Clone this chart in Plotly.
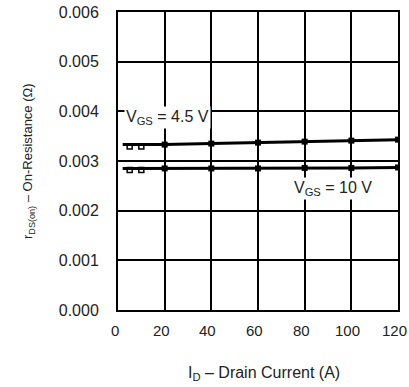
import plotly.graph_objects as go

# Data
id_line = [2, 20, 40, 60, 80, 100, 120]
r_45 = [0.00333, 0.00333, 0.00335, 0.00337, 0.00339, 0.00341, 0.00343]
r_10 = [0.00285, 0.00285, 0.00285, 0.00285, 0.00286, 0.00286, 0.00287]
pts_x = [20, 40, 60, 80, 100, 120]
pts_45 = [0.00333, 0.00335, 0.00337, 0.00339, 0.00341, 0.00343]
pts_10 = [0.00285, 0.00285, 0.00285, 0.00286, 0.00286, 0.00287]
low_x = [5, 10]
low_45 = [0.00329, 0.00329]
low_10 = [0.00282, 0.00282]
x_ticks = [0, 20, 40, 60, 80, 100, 120]
x_tick_labels = ["0", "20", "40", "60", "80", "100", "120"]
y_ticks = [0.000, 0.001, 0.002, 0.003, 0.004, 0.005, 0.006]

fig = go.Figure()
for ys in (r_45, r_10):
    fig.add_trace(go.Scatter(x=id_line, y=ys, mode="lines",
                             line=dict(color="black", width=3), showlegend=False))
for ys in (pts_45, pts_10):
    fig.add_trace(go.Scatter(x=pts_x, y=ys, mode="markers",
                             marker=dict(symbol="square", size=6, color="black"),
                             showlegend=False))
for ys in (low_45, low_10):
    fig.add_trace(go.Scatter(x=low_x, y=ys, mode="markers",
                             marker=dict(symbol="square-open", size=5, color="black",
                                         line=dict(width=1.5, color="black")),
                             showlegend=False))

fam = "Liberation Sans, Arial, sans-serif"
font = dict(family=fam, size=16, color="#222")
xfont = dict(family=fam, size=15, color="#222")
tfont = dict(family=fam, size=13, color="#222")

# x tick labels drawn as annotations anchored on the x scale (slightly shifted left)
tick_annotations = [
    dict(x=v, y=0, xref="x", yref="paper", text=t, showarrow=False, font=xfont,
         xanchor="center", yanchor="middle", xshift=-3.5, yshift=-20)
    for v, t in zip(x_ticks, x_tick_labels)
]

fig.update_layout(
    width=409, height=387,
    margin=dict(l=118, r=11, t=12, b=77, autoexpand=False),
    paper_bgcolor="white", plot_bgcolor="white",
    font=font,
    xaxis=dict(range=[0, 120], tickvals=x_ticks, showticklabels=False,
               showgrid=True, gridcolor="black", gridwidth=2, showline=True,
               linecolor="black", linewidth=2, mirror=True, zeroline=False, ticks="",
               automargin=False),
    yaxis=dict(range=[0, 0.006], tickvals=y_ticks, tickformat=".3f", showgrid=True,
               gridcolor="black", gridwidth=2, showline=True, linecolor="black",
               linewidth=2, mirror=True, zeroline=False, ticks="", ticklabelstandoff=14,
               ticklabeloverflow="allow", automargin=False),
    annotations=tick_annotations + [
        dict(x=2.5, y=0.00388, xref="x", yref="y", xanchor="left", yanchor="middle",
             text="V<sub>GS</sub> = 4.5 V", showarrow=False, bgcolor="white",
             font=font, borderpad=1),
        dict(x=92, y=0.00245, xref="x", yref="y", xanchor="center", yanchor="middle",
             text="V<sub>GS</sub> = 10 V", showarrow=False, bgcolor="white",
             font=font, borderpad=1),
        dict(x=(28 - 118) / 280, y=0.5, xref="paper", yref="paper", xanchor="center",
             yanchor="middle", textangle=-90, showarrow=False, font=tfont,
             text="r<sub>DS(on)</sub> – On-Resistance (Ω)"),
        dict(x=0.52, y=-(373 - 310) / 298, xref="paper", yref="paper", xanchor="center",
             yanchor="middle", showarrow=False, font=font,
             text="I<sub>D</sub> – Drain Current (A)"),
    ],
)

fig.write_html("out.html", config={"displayModeBar": False},
               post_script="document.body.style.margin='0px';")
